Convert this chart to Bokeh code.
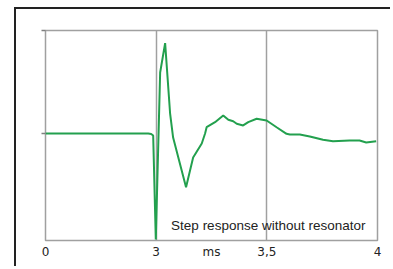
import numpy as np
from bokeh.plotting import figure
from bokeh.models import FixedTicker, Label
from bokeh.embed import file_html
from bokeh.resources import INLINE

# Time axis (ms) -- the original axis is piecewise: 0..3 ms compressed
tick_ms = [0.0, 3.0, 3.5, 4.0]
tick_labels = ["0", "3", "3,5", "4"]
unit_label = "ms"

# Step response samples (time in ms, relative amplitude)
t_ms = [0.0, 2.784, 2.865, 2.919, 2.99, 3.018, 3.0405, 3.063, 3.0766, 3.135,
        3.167, 3.206, 3.221, 3.228, 3.266, 3.303, 3.326, 3.348, 3.364, 3.393,
        3.416, 3.454, 3.499, 3.544, 3.589, 3.604, 3.649, 3.694, 3.754, 3.799,
        3.874, 3.919, 3.949, 3.994]
amp = [0.0, 0.0, -0.005, -0.02, -1.03, 0.592, 0.877, 0.194, -0.039, -0.521,
       -0.233, -0.097, 0.0, 0.061, 0.110, 0.175, 0.133, 0.119, 0.094, 0.078,
       0.110, 0.143, 0.126, 0.061, -0.003, -0.010, -0.010, -0.029, -0.061, -0.075,
       -0.068, -0.068, -0.087, -0.075]

title_text = "Step response without resonator"

# piecewise-linear axis mapping
tick_pos = list(range(len(tick_ms)))
xpos = np.interp(t_ms, tick_ms, tick_pos)

p = figure(width=376, height=259, output_backend="svg", toolbar_location=None,
           x_range=(0, 3), y_range=(-1.039, 1.0),
           min_border_left=29, min_border_right=15, min_border_top=21,
           min_border_bottom=28)
p.margin = (7, 0, 0, 14)
p.styles = {"border-top": "2px solid #222222", "border-left": "2px solid #222222"}

p.background_fill_color = "white"
p.border_fill_color = "white"
p.outline_line_color = "#a0a0a0"
p.outline_line_width = 1.5

p.line(xpos, amp, line_color="#23a04e", line_width=2)

# x axis
p.xaxis.ticker = FixedTicker(ticks=[0, 1, 1.5, 2, 3])
overrides = {float(tp): lab for tp, lab in zip(tick_pos, tick_labels)}
overrides[1.5] = unit_label
p.xaxis.major_label_overrides = overrides
p.xaxis.axis_line_color = None
p.xaxis.major_tick_line_color = None
p.xaxis.major_tick_out = 0
p.xaxis.major_tick_in = 0
p.xaxis.minor_tick_line_color = None
p.xaxis.minor_tick_out = 0
p.xaxis.major_label_text_font = "DejaVu Sans"
p.xaxis.major_label_text_font_size = "12px"
p.xaxis.major_label_text_color = "#222222"
p.xaxis.major_label_standoff = 4

# y axis: ticks only
p.yaxis.ticker = FixedTicker(ticks=[0, 1])
p.yaxis.major_label_overrides = {0: "", 1: ""}
p.yaxis.axis_line_color = None
p.yaxis.major_tick_line_color = "#808080"
p.yaxis.major_tick_line_width = 1.5
p.yaxis.major_tick_out = 4
p.yaxis.major_tick_in = 0
p.yaxis.minor_tick_line_color = None
p.yaxis.major_label_standoff = 0

p.xgrid.ticker = FixedTicker(ticks=[1, 2])
p.xgrid.grid_line_color = "#a0a0a0"
p.xgrid.grid_line_width = 1.5
p.ygrid.grid_line_color = None

p.add_layout(Label(x=1.135, y=-0.893, text=title_text,
                   text_font="Liberation Sans", text_font_size="13.5px",
                   text_color="#222222", text_baseline="alphabetic"))

open("out.html", "w").write(file_html(p, INLINE))
